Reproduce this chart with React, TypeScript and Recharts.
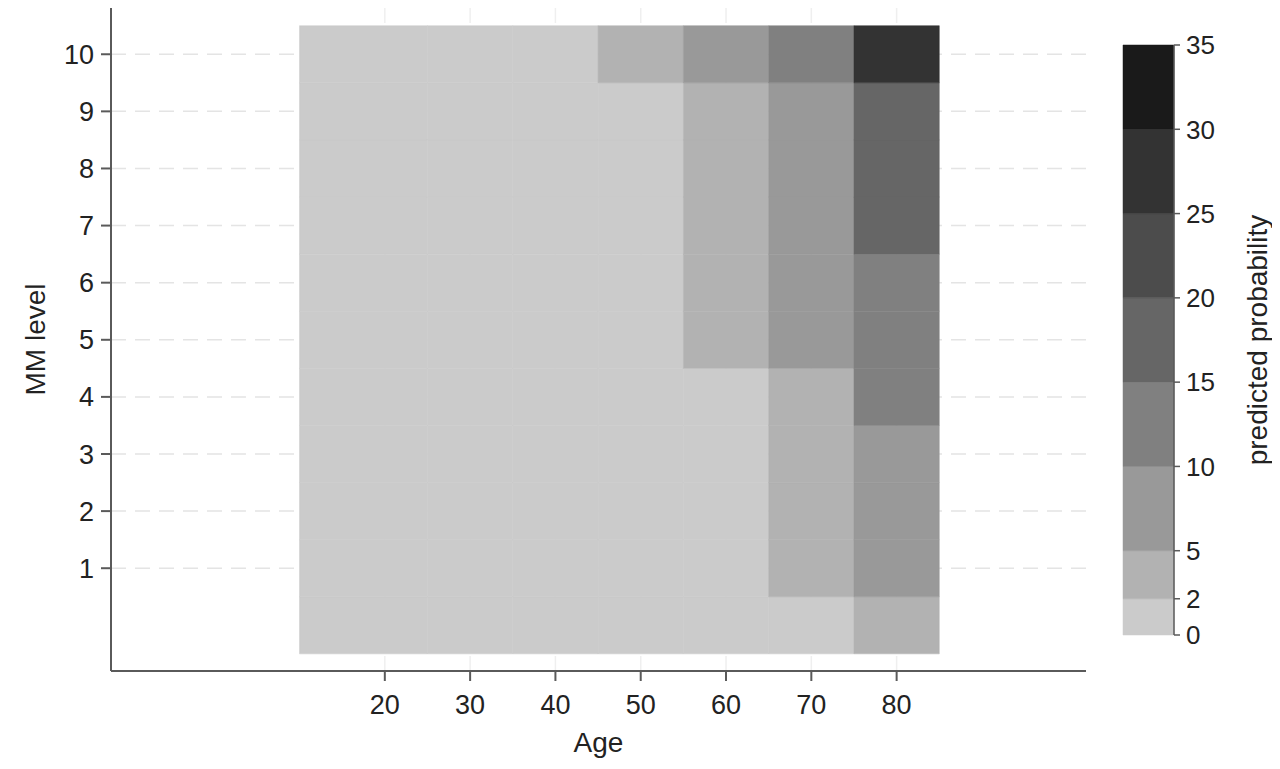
import { ComposedChart, XAxis, YAxis, CartesianGrid, ReferenceArea, Label } from 'recharts'

// age groups (x) and MM levels (y)
const AGE_TICKS = [20, 30, 40, 50, 60, 70, 80]
const AGE_EDGES = [10, 25, 35, 45, 55, 65, 75, 85]
const MM_LEVELS = [0, 1, 2, 3, 4, 5, 6, 7, 8, 9, 10]
const MM_TICKS = [1, 2, 3, 4, 5, 6, 7, 8, 9, 10]

// predicted probability (%) per age group, index = MM level 0..10
const PROB_AGE20 = [0.1, 0.1, 0.1, 0.2, 0.2, 0.2, 0.3, 0.3, 0.3, 0.4, 0.5]
const PROB_AGE30 = [0.2, 0.2, 0.2, 0.3, 0.3, 0.4, 0.4, 0.5, 0.6, 0.7, 0.8]
const PROB_AGE40 = [0.3, 0.3, 0.4, 0.4, 0.5, 0.6, 0.7, 0.8, 0.9, 1.1, 1.6]
const PROB_AGE50 = [0.5, 0.6, 0.7, 0.8, 0.9, 1.1, 1.2, 1.4, 1.6, 1.8, 2.6]
const PROB_AGE60 = [0.9, 1.1, 1.3, 1.5, 1.8, 2.1, 2.4, 2.8, 3.2, 3.7, 5.8]
const PROB_AGE70 = [1.8, 2.2, 2.6, 3.1, 3.6, 5.2, 6.1, 7.1, 8.2, 9.4, 13.2]
const PROB_AGE80 = [4.1, 5.3, 6.7, 8.4, 10.3, 12.4, 14.6, 16.9, 18.8, 19.7, 27.5]

// legend cut points and colours
const CUTS = [0, 2, 5, 10, 15, 20, 25, 30, 35]
const CUT_COLORS = ['#cbcbcb', '#b2b2b2', '#999999', '#808080', '#666666', '#4c4c4c', '#333333', '#1a1a1a']

const PROB_BY_AGE = [PROB_AGE20, PROB_AGE30, PROB_AGE40, PROB_AGE50, PROB_AGE60, PROB_AGE70, PROB_AGE80]

// where each cut sits on the colour bar (bar is not linear at the bottom)
const CBAR_POS = [0, 0.43, 1, 2, 3, 4, 5, 6, 7]

const FONT = '"Liberation Sans", Arial, Helvetica, sans-serif'
const TEXT = '#222'
const AXIS = '#5a5a5a'

const colorFor = (v: number) => {
  for (let i = 0; i < CUTS.length - 1; i++) {
    if (v >= CUTS[i] && v < CUTS[i + 1]) return CUT_COLORS[i]
  }
  return CUT_COLORS[CUT_COLORS.length - 1]
}

const cells = PROB_BY_AGE.flatMap((col, i) =>
  MM_LEVELS.map((lvl) => ({
    x1: AGE_EDGES[i], x2: AGE_EDGES[i + 1],
    y1: lvl - 0.5, y2: lvl + 0.5,
    fill: colorFor(col[lvl]),
  })),
)

const YTitle = (props: any) => {
  const vb = props.viewBox
  const x = vb.x + 27
  const y = vb.y + vb.height / 2
  return (
    <text x={x} y={y} transform={`rotate(-90 ${x} ${y})`} textAnchor="middle"
      dominantBaseline="central" fontSize={28} fill={TEXT} fontFamily={FONT}>
      MM level
    </text>
  )
}

const XTitle = (props: any) => {
  const vb = props.viewBox
  return (
    <text x={vb.x + vb.width / 2} y={vb.y + 81} textAnchor="middle"
      fontSize={28} fill={TEXT} fontFamily={FONT}>
      Age
    </text>
  )
}

const BarTitle = (props: any) => {
  const vb = props.viewBox
  // baseline of the rotated title
  const x = vb.x + 93
  const y = vb.y + vb.height / 2
  return (
    <text x={x} y={y} transform={`rotate(-90 ${x} ${y})`} textAnchor="middle"
      fontSize={28} fill={TEXT} fontFamily={FONT}>
      predicted probability
    </text>
  )
}

function ColorBar() {
  const bands = CUT_COLORS.map((c, i) => ({ y1: CBAR_POS[i], y2: CBAR_POS[i + 1], fill: c }))
  return (
    <ComposedChart width={172} height={700} margin={{ top: 37, right: 8, left: 15, bottom: 73 }}>
      <XAxis type="number" dataKey="x" domain={[0, 1]} allowDataOverflow hide />
      <YAxis
        type="number" orientation="right" domain={[0, 7]} ticks={CBAR_POS} width={98}
        allowDataOverflow interval={0} tickSize={6} tickMargin={6}
        tickFormatter={(v: number) => String(CUTS[CBAR_POS.indexOf(v)])}
        tick={{ fontSize: 26, fill: TEXT, fontFamily: FONT }}
        axisLine={{ stroke: AXIS, strokeWidth: 1.5 }} tickLine={{ stroke: AXIS, strokeWidth: 1.5 }}
      >
        <Label content={BarTitle} />
      </YAxis>
      {bands.map((b, i) => (
        <ReferenceArea key={i} x1={0} x2={1} y1={b.y1} y2={b.y2} fill={b.fill}
          fillOpacity={1} stroke={b.fill} strokeWidth={0.5} ifOverflow="visible" />
      ))}
    </ComposedChart>
  )
}

export default function App() {
  return (
    <div style={{ position: 'relative', width: 1264, height: 753, background: '#fff', fontFamily: FONT }}>
      <div style={{ position: 'absolute', left: 0, top: 0 }}>
        <ComposedChart width={1100} height={753} margin={{ top: 0, right: 22, left: 0, bottom: 10 }}>
          <CartesianGrid stroke="#e4e4e4" strokeWidth={1.5} strokeDasharray="15 9" syncWithTicks vertical={false} />
          <CartesianGrid stroke="#efefef" strokeWidth={1.5} strokeDasharray="15 9" syncWithTicks horizontal={false} />
          <XAxis
            type="number" dataKey="x" domain={[-12.1, 102.2]} ticks={AGE_TICKS} interval={0}
            allowDataOverflow height={80} tickSize={10} tickMargin={14}
            tick={{ fontSize: 27, fill: TEXT, fontFamily: FONT }}
            axisLine={{ stroke: AXIS, strokeWidth: 2 }} tickLine={{ stroke: AXIS, strokeWidth: 2 }}
          >
            <Label content={XTitle} />
          </XAxis>
          <YAxis
            type="number" domain={[-0.8, 10.81]} ticks={MM_TICKS} interval={0}
            allowDataOverflow width={103} tickSize={10} tickMargin={7}
            tick={{ fontSize: 27, fill: TEXT, fontFamily: FONT }}
            axisLine={{ stroke: AXIS, strokeWidth: 2 }} tickLine={{ stroke: AXIS, strokeWidth: 2 }}
          >
            <Label content={YTitle} />
          </YAxis>
          {cells.map((c, i) => (
            <ReferenceArea key={i} x1={c.x1} x2={c.x2} y1={c.y1} y2={c.y2} fill={c.fill}
              fillOpacity={1} stroke={c.fill} strokeWidth={0.5} ifOverflow="visible" />
          ))}
        </ComposedChart>
      </div>
      <div style={{ position: 'absolute', left: 1100, top: 0 }}>
        <ColorBar />
      </div>
    </div>
  )
}
